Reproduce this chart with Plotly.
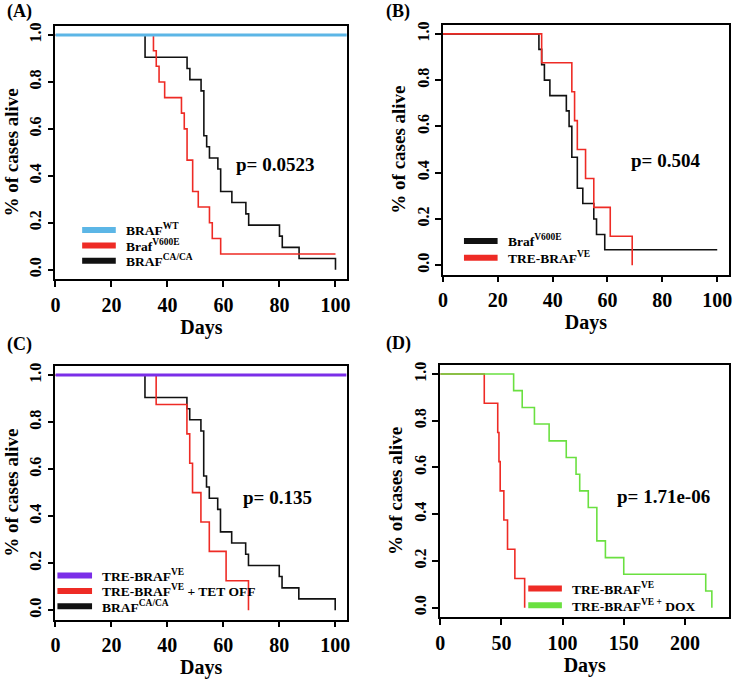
import plotly.graph_objects as go

# Kaplan-Meier curves (days, fraction alive)
wt_days = [0, 104]
wt_surv = [1.0, 1.0]

v600e_days = [0, 35, 36, 37, 39, 45, 46, 47, 49, 51, 55, 56, 59, 100]
v600e_surv = [1.0, 0.933, 0.867, 0.8, 0.733, 0.667, 0.6, 0.467, 0.333, 0.267, 0.2, 0.133, 0.067, 0.067]

caca_days = [0, 32, 47, 48, 52, 53, 54, 55, 58, 59, 63, 68, 69, 80, 81, 87, 100]
caca_surv = [1.0, 0.905, 0.857, 0.81, 0.762, 0.571, 0.524, 0.476, 0.429, 0.333, 0.286, 0.238, 0.19, 0.143, 0.095, 0.048, 0.0]

tre_days = [0, 36, 47, 48, 49, 52, 55, 61, 69]
tre_surv = [1.0, 0.875, 0.75, 0.625, 0.5, 0.375, 0.25, 0.125, 0.0]

tre_on_days = [0, 104]
tre_on_surv = [1.0, 1.0]

dox_days = [0, 60, 67, 77, 89, 103, 111, 114, 121, 128, 135, 150, 217, 222]
dox_surv = [1.0, 0.929, 0.857, 0.786, 0.714, 0.643, 0.571, 0.5, 0.429, 0.286, 0.214, 0.143, 0.071, 0.0]

p_values = ["p= 0.0523", "p= 0.504", "p= 0.135", "p= 1.71e-06"]
panel_labels = ["(A)", "(B)", "(C)", "(D)"]
y_ticks = [0.0, 0.2, 0.4, 0.6, 0.8, 1.0]
y_ticktext = ["0.0", "0.2", "0.4", "0.6", "0.8", "1.0"]

BLUE = "#5cb6e6"
RED = "#ee2b25"
BLACK = "#111111"
PURPLE = "#7b2ee8"
GREEN = "#6ae040"
FONT = "Liberation Serif"

W, H = 737, 682


def px_x(p):
    return p / W


def px_y(p):
    return 1 - p / H


def ax(n, name):
    return name + ("" if n == 1 else str(n))


fig = go.Figure()


def add_curve(days, surv, color, width, n):
    fig.add_trace(go.Scatter(x=days, y=surv, mode="lines", line_shape="hv",
                             line=dict(color=color, width=width),
                             xaxis=ax(n, "x"), yaxis=ax(n, "y"),
                             showlegend=False, hoverinfo="skip"))


# (A)
add_curve(caca_days, caca_surv, BLACK, 1.6, 1)
add_curve(v600e_days, v600e_surv, RED, 1.6, 1)
add_curve(wt_days, wt_surv, BLUE, 3, 1)
# (B)
add_curve(v600e_days, v600e_surv, BLACK, 1.6, 2)
add_curve(tre_days, tre_surv, RED, 1.6, 2)
# (C)
add_curve(caca_days, caca_surv, BLACK, 1.6, 3)
add_curve(tre_days, tre_surv, RED, 1.6, 3)
add_curve(tre_on_days, tre_on_surv, PURPLE, 3, 3)
# (D)
add_curve(tre_days, tre_surv, RED, 1.6, 4)
add_curve(dox_days, dox_surv, GREEN, 1.6, 4)

# legend entries per panel: (label, colour)
legends = [
    [("BRAF<sup>WT</sup>", BLUE), ("Braf<sup>V600E</sup>", RED), ("BRAF<sup>CA/CA</sup>", BLACK)],
    [("Braf<sup>V600E</sup>", BLACK), ("TRE-BRAF<sup>VE</sup>", RED)],
    [("TRE-BRAF<sup>VE</sup>", PURPLE), ("TRE-BRAF<sup>VE</sup> + TET OFF", RED), ("BRAF<sup>CA/CA</sup>", BLACK)],
    [("TRE-BRAF<sup>VE</sup>", RED), ("TRE-BRAF<sup>VE +</sup> DOX", GREEN)],
]
# swatch left, swatch right, first row y, row step (pixels)
legend_boxes = [(78, 112, 228, 15.5), (464, 498, 239, 17), (53, 88, 575, 15.5), (529, 563, 588, 17)]

# panel boxes in pixels: left, right, top, bottom
boxes = [(51, 346, 22.7, 277.3), (442.7, 731.7, 21.7, 272.7),
         (51, 345.7, 364.3, 619.3), (440, 732.3, 363.3, 616.7)]
x_ranges = [[0, 104.2], [0, 104.2], [0, 104.2], [0, 236.3]]
x_dticks = [20, 20, 20, 50]

axis_common = dict(showline=True, mirror=True, linecolor="black", linewidth=1.5,
                   ticks="outside", ticklen=6, tickwidth=1.5, tickcolor="black",
                   showgrid=False, zeroline=False)

layout = {}
for i, (l, r, t, b) in enumerate(boxes):
    n = i + 1
    layout[ax(n, "xaxis")] = dict(axis_common, domain=[px_x(l), px_x(r)], range=x_ranges[i],
                                  anchor=ax(n, "y"), tick0=0, dtick=x_dticks[i],
                                  ticklabelstandoff=1,
                                  tickfont=dict(family=FONT, size=20, color="black", weight="bold"),
                                  title=dict(text="Days", standoff=0,
                                             font=dict(family=FONT, size=20, color="black", weight="bold")))
    layout[ax(n, "yaxis")] = dict(axis_common, domain=[px_y(b), px_y(t)], range=[-0.04, 1.04],
                                  anchor=ax(n, "x"), tickvals=y_ticks, ticktext=y_ticktext,
                                  tickangle=-90, ticklabelstandoff=0,
                                  tickfont=dict(family=FONT, size=16, color="black", weight="bold"),
                                  title=dict(text="% of cases alive", standoff=4,
                                             font=dict(family=FONT, size=19, color="black", weight="bold")))

annotations = []
shapes = []

p_pos = [(78.4, 0.448), (81.3, 0.453), (79.2, 0.48), (182.7, 0.477)]
for i, (xv, yv) in enumerate(p_pos):
    n = i + 1
    annotations.append(dict(x=xv, y=yv, xref=ax(n, "x"), yref=ax(n, "y"), text=p_values[i],
                            showarrow=False,
                            font=dict(family=FONT, size=19, color="black", weight="bold")))

label_pos = [(0, 9), (383, 9), (0, 343), (383, 342)]
for i, (lx, ly) in enumerate(label_pos):
    annotations.append(dict(x=px_x(lx), y=px_y(ly), xref="paper", yref="paper",
                            xanchor="left", yanchor="middle", text=panel_labels[i],
                            showarrow=False,
                            font=dict(family=FONT, size=18, color="black", weight="bold")))

for entries, (sl, sr, y0, step) in zip(legends, legend_boxes):
    for j, (label, color) in enumerate(entries):
        yy = y0 + j * step
        shapes.append(dict(type="line", xref="paper", yref="paper", layer="above",
                           x0=px_x(sl), x1=px_x(sr), y0=px_y(yy), y1=px_y(yy),
                           line=dict(color=color, width=6)))
        annotations.append(dict(x=px_x(sr + 8), y=px_y(yy), xref="paper", yref="paper",
                                xanchor="left", yanchor="middle", text=label, showarrow=False,
                                font=dict(family=FONT, size=13.5, color="black", weight="bold")))

fig.update_layout(**layout)
fig.update_layout(width=W, height=H, margin=dict(l=0, r=0, t=0, b=0),
                  paper_bgcolor="white", plot_bgcolor="white", showlegend=False,
                  font=dict(family=FONT, color="black"),
                  annotations=annotations, shapes=shapes)

# drop the default 8px page margin so the figure fills the window exactly
fig.write_html("out.html", config={"displayModeBar": False},
               post_script="document.body.style.margin = '0';")
